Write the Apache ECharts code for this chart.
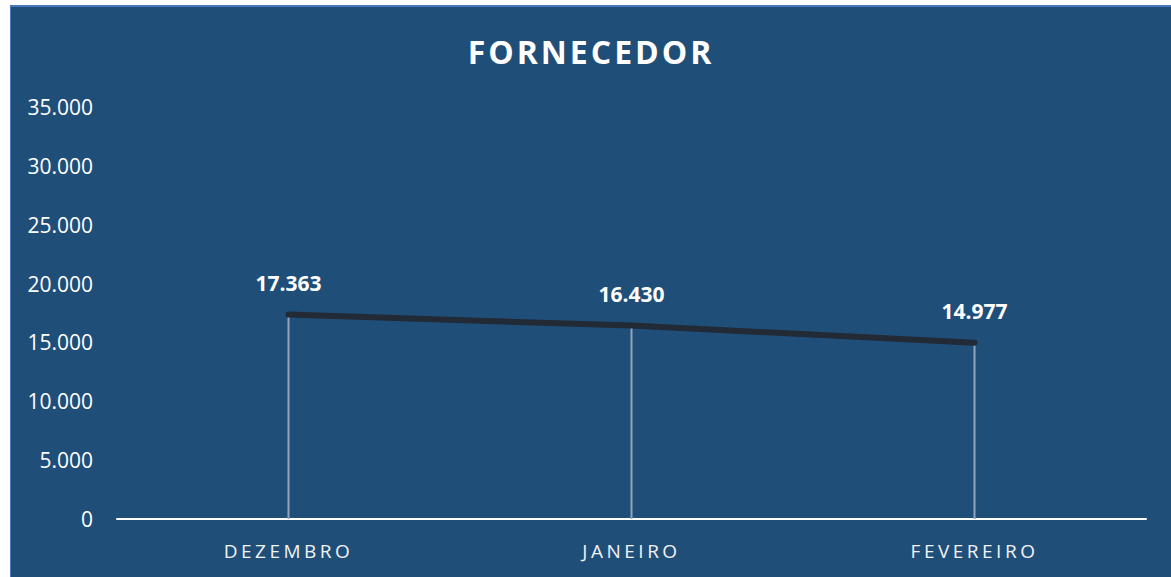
<!DOCTYPE html>
<html>
<head>
<meta charset="utf-8">
<script src="https://cdn.jsdelivr.net/npm/echarts@6/dist/echarts.min.js"></script>
<style>
    html, body {
        margin: 0;
        padding: 0;
        background: #fff;
        width: 1171px;
        height: 577px;
        overflow: hidden;
    }
    .frame {
        position: absolute;
        left: 10px;
        top: 5px;
        right: 0;
        bottom: 0;
        background: #4a76bd;
    }
    .ui-echart {
        position: absolute;
        left: 1px;
        top: 2px;
        width: 1160px;
        height: 570px;
        background: #1f4e79;
    }
    /* letter spacing for title and month labels (svg renderer) */
    .ui-echart text[style*="32px"] {
        letter-spacing: 3px;
    }
    .ui-echart text[style*="19px"] {
        letter-spacing: 3.5px;
    }
</style>
</head>
<body>
<div class="frame">
    <div class="ui-echart" id="myEchart"></div>
</div>
<script>
    const titleText = 'FORNECEDOR';
    const months = ['DEZEMBRO', 'JANEIRO', 'FEVEREIRO'];
    const fornecedor = [17363, 16430, 14977];
    const yTicks = [0, 5000, 10000, 15000, 20000, 25000, 30000, 35000];

    // 17363 -> 17.363
    const fmt = v => String(v).replace(/\B(?=(\d{3})+(?!\d))/g, '.');

    let option = {
        backgroundColor: '#1f4e79',
        animation: false,
        title: {
            text: titleText,
            left: 'center',
            top: 23,
            textStyle: {
                fontFamily: 'Open Sans',
                fontSize: 32,
                fontWeight: 'bold',
                color: '#ffffff',
                lineHeight: 32
            }
        },
        grid: {
            left: 106,
            right: 25,
            top: 100,
            bottom: 58
        },
        xAxis: {
            type: 'category',
            data: months,
            boundaryGap: true,
            axisLine: {
                lineStyle: {color: '#ffffff', width: 2}
            },
            axisTick: {show: false},
            axisLabel: {
                margin: 22,
                fontFamily: 'Open Sans',
                fontSize: 19,
                color: '#f2f2f2'
            }
        },
        yAxis: {
            type: 'value',
            min: yTicks[0],
            max: yTicks[yTicks.length - 1],
            interval: yTicks[1] - yTicks[0],
            axisLine: {show: false},
            axisTick: {show: false},
            splitLine: {show: false},
            axisLabel: {
                margin: 24,
                fontFamily: 'Open Sans',
                fontSize: 21,
                color: '#ffffff',
                formatter: v => fmt(v)
            }
        },
        series: [
            {
                // drop lines, carrying the value labels
                type: 'bar',
                data: fornecedor,
                barWidth: 2,
                silent: true,
                itemStyle: {color: '#93a5ba'},
                z: 1,
                label: {
                    show: true,
                    position: 'top',
                    distance: 21,
                    fontFamily: 'Open Sans',
                    fontSize: 21,
                    fontWeight: 'bold',
                    lineHeight: 21,
                    color: '#ffffff',
                    formatter: p => fmt(p.value)
                }
            },
            {
                name: titleText,
                type: 'line',
                data: fornecedor,
                symbol: 'none',
                lineStyle: {color: '#222a35', width: 6, cap: 'round'},
                z: 3
            }
        ]
    };

    const chart = echarts.init(document.getElementById('myEchart'), null, {renderer: 'svg'});
    chart.setOption(option);
</script>
</body>
</html>
